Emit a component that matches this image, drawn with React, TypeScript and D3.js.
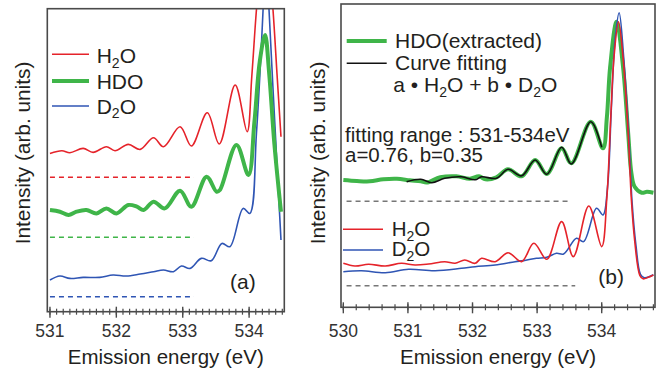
import * as d3 from 'd3';

// energy (eV), intensity (arb. units)
type Pt = [number, number];

const aH2O: Pt[] = [
  [531.0, 158.3], [531.18, 161], [531.3, 159], [531.5, 163.3], [531.65, 159.3], [531.85, 165],
  [531.98, 161], [532.18, 167.3], [532.36, 162.3], [532.56, 174], [532.71, 165], [532.96, 185],
  [533.13, 165.7], [533.37, 199], [533.55, 167.7], [533.79, 226.7], [533.97, 180], [534.04, 235],
  [534.11, 301.7], [534.24, 400], [534.36, 301.7], [534.42, 238], [534.48, 175],
];
const aHDO: Pt[] = [
  [531.0, 101.7], [531.15, 100], [531.28, 96.7], [531.4, 100], [531.55, 101.7], [531.7, 98.3],
  [531.85, 103.3], [532.0, 98.3], [532.18, 106.7], [532.31, 105], [532.41, 101.7], [532.56, 110],
  [532.73, 103.3], [532.96, 121], [533.13, 105], [533.36, 135], [533.51, 120], [533.56, 121.7],
  [533.81, 166.7], [533.99, 136.7], [534.08, 190], [534.16, 250], [534.24, 276.7], [534.3, 240],
  [534.38, 168], [534.48, 100],
];
const aD2O: Pt[] = [
  [531.0, 31.7], [531.15, 35.7], [531.3, 33.3], [531.5, 34.3], [531.75, 34.3], [531.95, 36.7],
  [532.15, 35.7], [532.36, 37.7], [532.56, 40], [532.71, 41.7], [532.86, 40], [532.98, 45.7],
  [533.11, 43.3], [533.28, 53.3], [533.43, 51], [533.59, 68.3], [533.71, 65], [533.91, 103.3],
  [534.01, 98.3], [534.11, 178], [534.21, 301.7], [534.255, 380], [534.3, 301.7], [534.39, 185],
  [534.48, 71.7],
];
const aBaselines = [134.4, 74.4, 15];
const aDashRange = [531.0, 533.17];

const bHDO: Pt[] = [
  [530.0, 127.3], [530.21, 126.3], [530.41, 126], [530.62, 128], [530.83, 128.5], [531.03, 127],
  [531.2, 126], [531.29, 124.7], [531.5, 130], [531.75, 131], [531.96, 128.5], [532.1, 131],
  [532.2, 128], [532.37, 130], [532.55, 138], [532.76, 131], [532.97, 147.3], [533.15, 133.3],
  [533.38, 159], [533.53, 144], [533.83, 185.6], [534.02, 159], [534.08, 190], [534.13, 240],
  [534.23, 285.6], [534.33, 240.6], [534.41, 174], [534.46, 134], [534.51, 120.6], [534.62, 114.6],
  [534.7, 115.5], [534.8, 114.6],
];
const bFit: Pt[] = [
  [530.98, 125.6], [531.2, 128], [531.37, 124.6], [531.57, 129], [531.83, 130.5], [532.04, 127.5],
  [532.14, 130.5], [532.37, 129], [532.55, 138], [532.76, 131.5], [532.97, 147.3], [533.15, 133],
  [533.38, 160], [533.53, 143.3], [533.83, 185.6], [534.0, 160],
];
const bH2O: Pt[] = [
  [530.0, 44], [530.18, 41.3], [530.39, 43], [530.65, 41.3], [530.9, 44], [531.11, 42.3],
  [531.32, 43.3], [531.57, 45.6], [531.73, 44], [531.88, 47.3], [532.04, 44], [532.14, 49],
  [532.35, 45.6], [532.55, 54.6], [532.76, 45.7], [532.95, 64], [533.15, 48], [533.38, 85.7],
  [533.56, 50.7], [533.8, 101.3], [534.0, 60.7], [534.08, 110], [534.14, 190], [534.19, 250],
  [534.26, 285.6], [534.33, 250], [534.41, 174], [534.46, 107], [534.51, 67], [534.59, 32],
  [534.64, 28.5], [534.72, 30], [534.8, 32.3],
];
const bD2O: Pt[] = [
  [530.0, 35.6], [530.28, 36.6], [530.65, 34.6], [531.01, 38], [531.42, 36.6], [531.83, 39],
  [532.04, 40.6], [532.35, 42.3], [532.66, 45.6], [532.79, 46.7], [532.99, 49], [533.15, 50],
  [533.3, 54], [533.41, 53.3], [533.61, 69], [533.72, 65.7], [533.92, 99], [534.02, 92.3],
  [534.09, 120], [534.15, 200], [534.21, 270], [534.27, 294.6], [534.34, 250], [534.42, 170],
  [534.47, 105], [534.53, 62], [534.6, 33], [534.66, 29.5], [534.8, 32.5],
];
const bBaselines = [106, 21.6];
const bDashEnds = [533.48, 533.59];

const ticksA = [531, 532, 533, 534];
const ticksB = [530, 531, 532, 533, 534];

const FONT = '"Liberation Sans", Arial, Helvetica, sans-serif';
const RED = '#e5232a';
const GREEN = '#3fb549';
const BLUE = '#2f55b4';
const FRAME = '#4a4a4a';
const TXT = '#231f20';

const boxA = { l: 47.3, r: 284.3, t: 8.7, b: 311.7 };
const boxB = { l: 341, r: 655, t: 4, b: 307.3 };

const xA = d3.scaleLinear().domain([530.96, 534.53]).range([boxA.l, boxA.r]);
const yA = d3.scaleLinear().domain([0, 303]).range([boxA.b, boxA.t]);
const xB = d3.scaleLinear().domain([529.964, 534.825]).range([boxB.l, boxB.r]);
const yB = d3.scaleLinear().domain([0, 303.3]).range([boxB.b, boxB.t]);

function makeLine(x: d3.ScaleLinear<number, number>, y: d3.ScaleLinear<number, number>) {
  return d3
    .line<Pt>()
    .x((d) => x(d[0]))
    .y((d) => y(d[1]))
    .curve(d3.curveCatmullRom.alpha(0.5));
}

// "H" + subscript 2 + "O"
function Chem({ a, b }: { a: string; b: string }) {
  return (
    <>
      {a}
      <tspan fontSize={14} dy={4.5}>2</tspan>
      <tspan dy={-4.5}>{b}</tspan>
    </>
  );
}

function Axis({ x, box, major, minorStart, minorEnd, step }: any) {
  const minor = d3.range(minorStart, minorEnd + 1e-6, step);
  return (
    <g>
      {minor.map((v: number, i: number) => (
        <line key={'m' + i} x1={x(v)} x2={x(v)} y1={box.b - 3} y2={box.b + 3} stroke={FRAME} strokeWidth={1.2} />
      ))}
      {major.map((v: number) => (
        <g key={v}>
          <line x1={x(v)} x2={x(v)} y1={box.b - 5} y2={box.b + 6} stroke={FRAME} strokeWidth={1.4} />
          <text x={x(v)} y={336.5} textAnchor="middle" fontSize={17.5} fill="#333">
            {v}
          </text>
        </g>
      ))}
      <rect x={box.l} y={box.t} width={box.r - box.l} height={box.b - box.t} fill="none" stroke={FRAME} strokeWidth={1.6} />
      <text x={(box.l + box.r) / 2} y={364} textAnchor="middle" fontSize={20.5} fill={TXT}>
        Emission energy (eV)
      </text>
    </g>
  );
}

export default function App() {
  const lineA = makeLine(xA, yA);
  const lineB = makeLine(xB, yB);
  const aColors = [RED, GREEN, BLUE];

  return (
    <svg
      width={658}
      height={373}
      style={{ position: 'absolute', left: 0, top: 0, background: '#fff', fontFamily: FONT }}
    >
      <defs>
        <clipPath id="clipA">
          <rect x={boxA.l} y={boxA.t} width={boxA.r - boxA.l} height={boxA.b - boxA.t} />
        </clipPath>
        <clipPath id="clipB">
          <rect x={boxB.l} y={boxB.t} width={boxB.r - boxB.l} height={boxB.b - boxB.t} />
        </clipPath>
      </defs>

      {/* panel (a) */}
      <text transform="translate(30,153) rotate(-90)" textAnchor="middle" fontSize={20.8} fill={TXT}>
        Intensity (arb. units)
      </text>
      <g clipPath="url(#clipA)">
        {aBaselines.map((v, i) => (
          <line key={i} x1={xA(aDashRange[0])} x2={xA(aDashRange[1])} y1={yA(v)} y2={yA(v)}
            stroke={aColors[i]} strokeWidth={1.6} strokeDasharray="5,4" />
        ))}
        <path d={lineA(aH2O) ?? ''} fill="none" stroke={RED} strokeWidth={1.6} />
        <path d={lineA(aD2O) ?? ''} fill="none" stroke={BLUE} strokeWidth={1.6} />
        <path d={lineA(aHDO) ?? ''} fill="none" stroke={GREEN} strokeWidth={4} strokeLinejoin="round" />
      </g>
      <Axis x={xA} box={boxA} major={ticksA} minorStart={531} minorEnd={534.5} step={0.1} />
      <g fontSize={21} fill={TXT}>
        <line x1={52} x2={89} y1={54.3} y2={54.3} stroke={RED} strokeWidth={1.6} />
        <text x={96.7} y={63}><Chem a="H" b="O" /></text>
        <line x1={52} x2={89} y1={81} y2={81} stroke={GREEN} strokeWidth={4} />
        <text x={96.7} y={88.5}>HDO</text>
        <line x1={52} x2={89} y1={106} y2={106} stroke={BLUE} strokeWidth={1.6} />
        <text x={96.7} y={113.5}><Chem a="D" b="O" /></text>
        <text x={230} y={289}>(a)</text>
      </g>

      {/* panel (b) */}
      <text transform="translate(324.5,153) rotate(-90)" textAnchor="middle" fontSize={20.8} fill={TXT}>
        Intensity (arb. units)
      </text>
      <g clipPath="url(#clipB)">
        {bBaselines.map((v, i) => (
          <line key={i} x1={xB(530.05)} x2={xB(bDashEnds[i])} y1={yB(v)} y2={yB(v)}
            stroke="#777" strokeWidth={1.5} strokeDasharray="5,4" />
        ))}
        <path d={lineB(bHDO) ?? ''} fill="none" stroke={GREEN} strokeWidth={4} strokeLinejoin="round" />
        <path d={lineB(bFit) ?? ''} fill="none" stroke="#111" strokeWidth={1.6} />
        <path d={lineB(bD2O) ?? ''} fill="none" stroke={BLUE} strokeWidth={1.6} />
        <path d={lineB(bH2O) ?? ''} fill="none" stroke={RED} strokeWidth={1.6} />
      </g>
      <Axis x={xB} box={boxB} major={ticksB} minorStart={530} minorEnd={534.8} step={0.2} />
      <g fontSize={21} fill={TXT}>
        <line x1={346.7} x2={386.7} y1={41} y2={41} stroke={GREEN} strokeWidth={4} />
        <text x={395} y={47.7}>HDO(extracted)</text>
        <line x1={346.7} x2={386.7} y1={63.3} y2={63.3} stroke="#111" strokeWidth={1.6} />
        <text x={395} y={70}>Curve fitting</text>
        <text x={393.3} y={92.3}>
          a • <Chem a="H" b="O" /> + b • <Chem a="D" b="O" />
        </text>
        <text x={345} y={142} fontSize={20.5}>fitting range : 531-534eV</text>
        <text x={345} y={162.3} fontSize={20.5}>a=0.76, b=0.35</text>
        <line x1={343} x2={383} y1={229.3} y2={229.3} stroke={RED} strokeWidth={1.6} />
        <text x={391.7} y={236.2} fontSize={20.5}><Chem a="H" b="O" /></text>
        <line x1={343} x2={383} y1={250} y2={250} stroke={BLUE} strokeWidth={1.6} />
        <text x={391.7} y={256.3} fontSize={20.5}><Chem a="D" b="O" /></text>
        <text x={598.3} y={284}>(b)</text>
      </g>
    </svg>
  );
}
